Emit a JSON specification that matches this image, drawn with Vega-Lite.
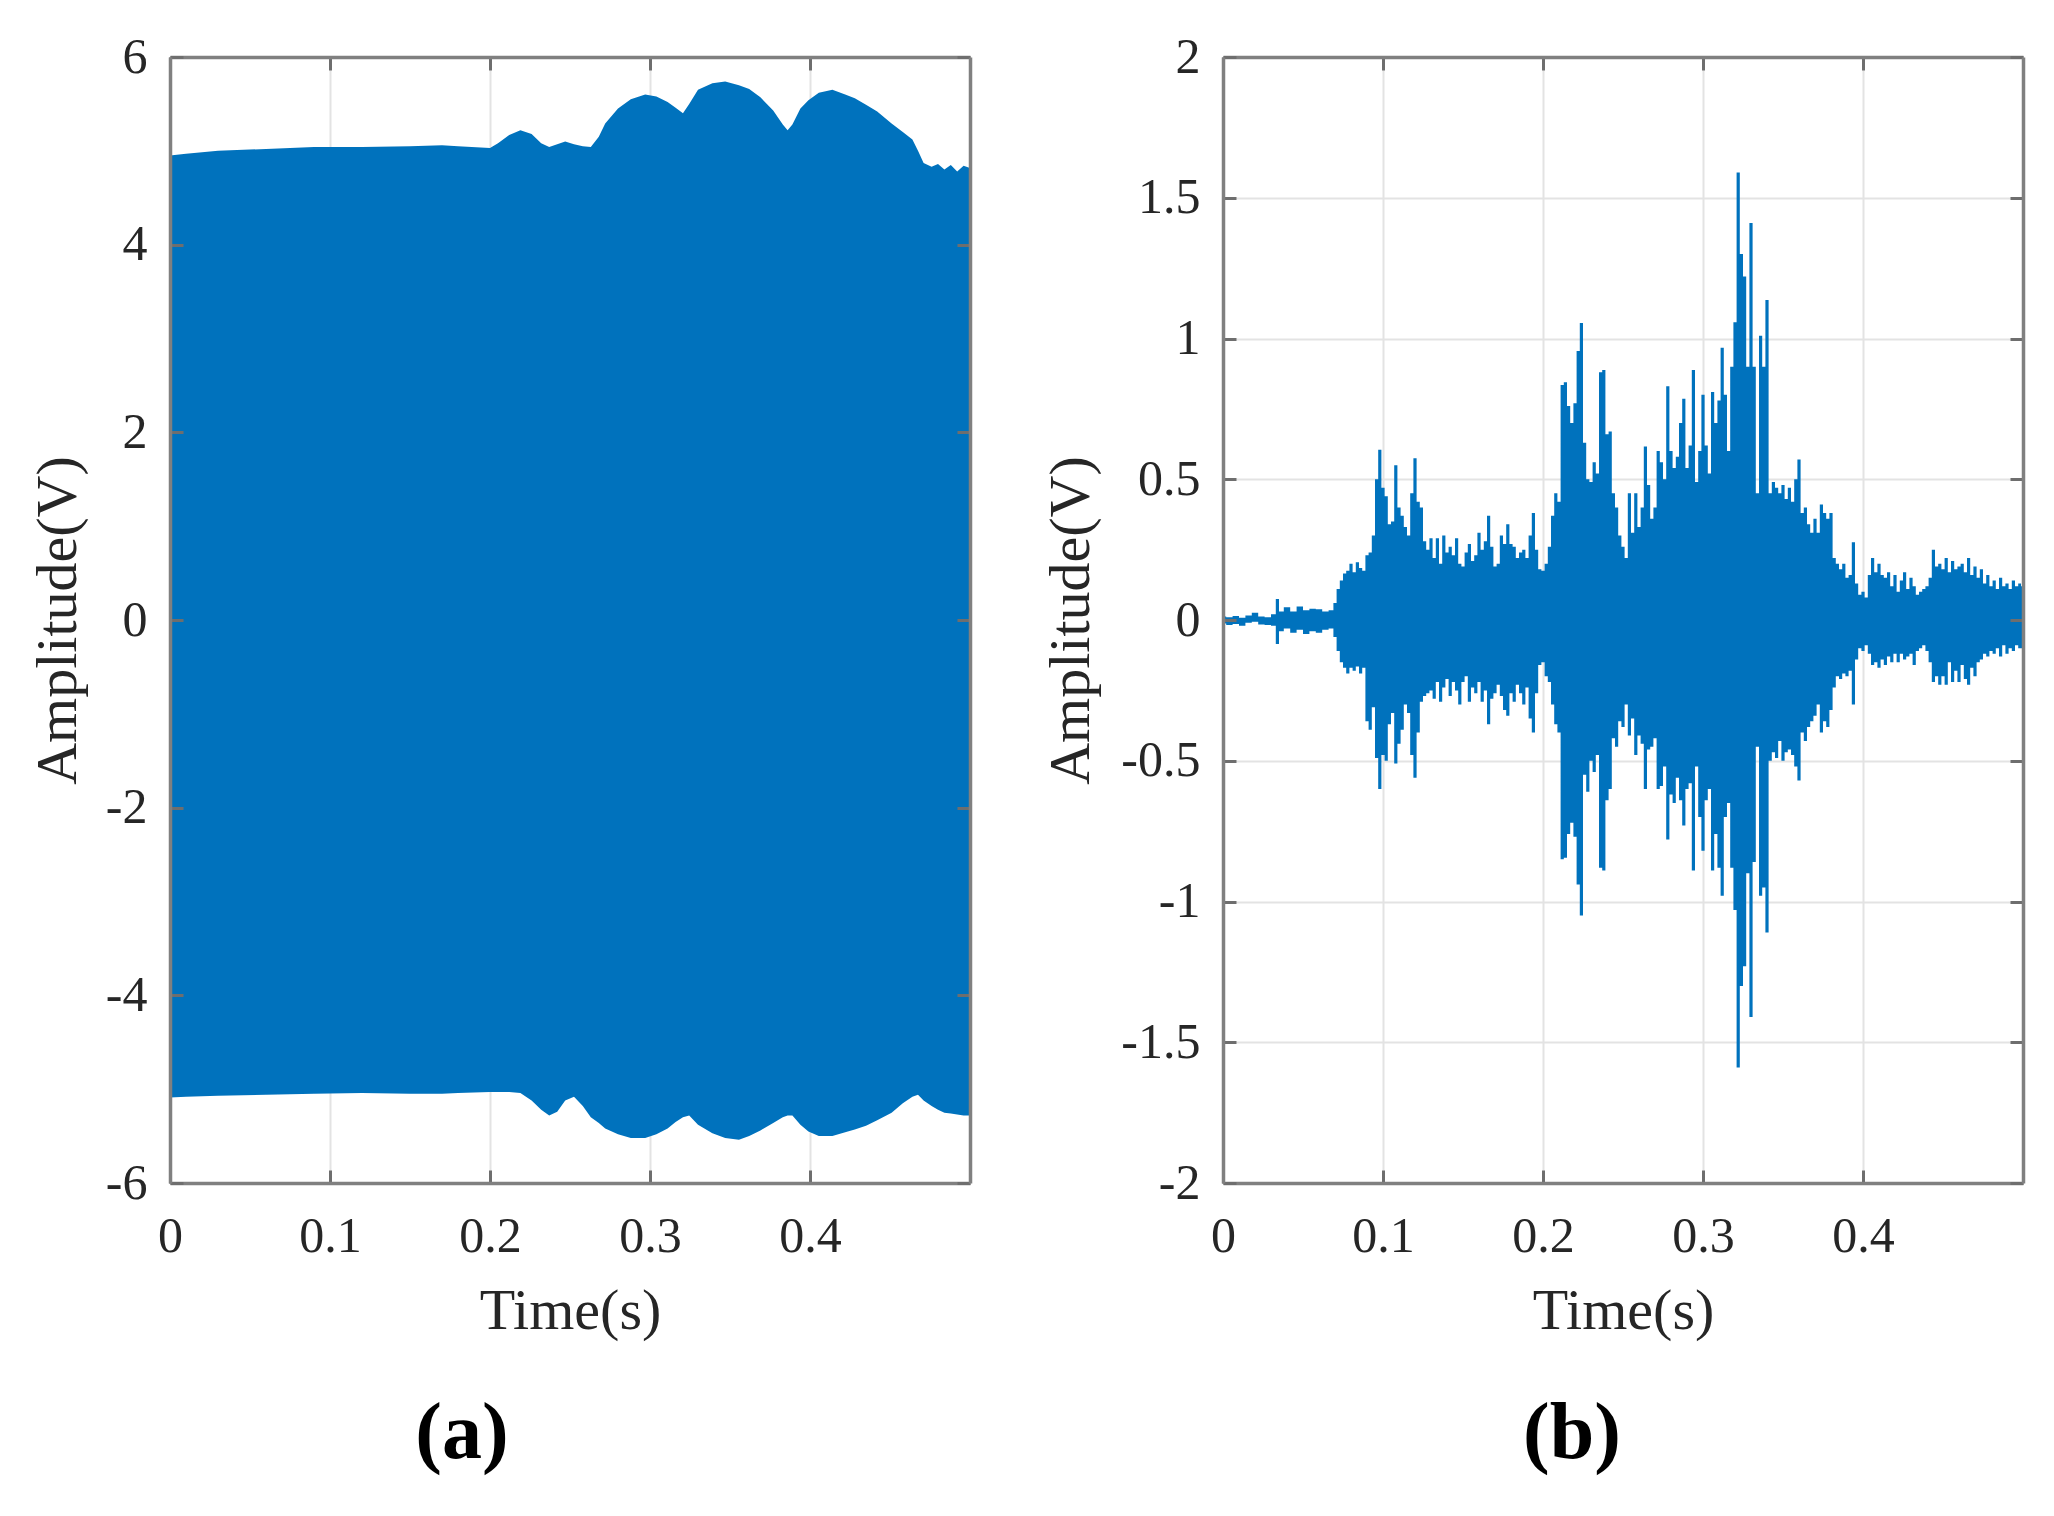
{
  "$schema": "https://vega.github.io/schema/vega-lite/v6.json",
  "background": "white",
  "padding": {"left": 29, "top": 32, "right": 30, "bottom": 30},
  "spacing": 253,
  "bounds": "flush",
  "datasets": {
    "a": [
      {"t":0.000,"hi":4.95,"lo":-5.09},{"t":0.010,"hi":4.97,"lo":-5.08},{"t":0.030,"hi":5.00,"lo":-5.07},{"t":0.060,"hi":5.02,"lo":-5.06},
      {"t":0.090,"hi":5.04,"lo":-5.05},{"t":0.120,"hi":5.04,"lo":-5.04},{"t":0.150,"hi":5.05,"lo":-5.05},{"t":0.170,"hi":5.06,"lo":-5.05},
      {"t":0.180,"hi":5.05,"lo":-5.04},{"t":0.200,"hi":5.03,"lo":-5.03},{"t":0.205,"hi":5.08,"lo":-5.03},{"t":0.212,"hi":5.17,"lo":-5.03},
      {"t":0.219,"hi":5.22,"lo":-5.04},{"t":0.226,"hi":5.18,"lo":-5.12},{"t":0.232,"hi":5.08,"lo":-5.22},{"t":0.237,"hi":5.04,"lo":-5.28},
      {"t":0.242,"hi":5.07,"lo":-5.24},{"t":0.247,"hi":5.10,"lo":-5.12},{"t":0.2525,"hi":5.07,"lo":-5.08},{"t":0.258,"hi":5.05,"lo":-5.18},
      {"t":0.263,"hi":5.04,"lo":-5.30},{"t":0.268,"hi":5.15,"lo":-5.36},{"t":0.272,"hi":5.29,"lo":-5.42},{"t":0.280,"hi":5.45,"lo":-5.48},
      {"t":0.288,"hi":5.55,"lo":-5.52},{"t":0.297,"hi":5.60,"lo":-5.52},{"t":0.304,"hi":5.58,"lo":-5.48},{"t":0.311,"hi":5.52,"lo":-5.42},
      {"t":0.316,"hi":5.46,"lo":-5.35},{"t":0.3206,"hi":5.40,"lo":-5.30},{"t":0.3245,"hi":5.50,"lo":-5.28},{"t":0.330,"hi":5.65,"lo":-5.38},
      {"t":0.339,"hi":5.72,"lo":-5.47},{"t":0.347,"hi":5.74,"lo":-5.52},{"t":0.3556,"hi":5.70,"lo":-5.54},{"t":0.362,"hi":5.66,"lo":-5.50},
      {"t":0.369,"hi":5.57,"lo":-5.44},{"t":0.377,"hi":5.43,"lo":-5.36},{"t":0.383,"hi":5.28,"lo":-5.30},{"t":0.386,"hi":5.22,"lo":-5.28},
      {"t":0.389,"hi":5.28,"lo":-5.28},{"t":0.394,"hi":5.45,"lo":-5.38},{"t":0.399,"hi":5.54,"lo":-5.45},{"t":0.4055,"hi":5.62,"lo":-5.50},
      {"t":0.414,"hi":5.65,"lo":-5.50},{"t":0.422,"hi":5.60,"lo":-5.46},{"t":0.428,"hi":5.56,"lo":-5.43},{"t":0.435,"hi":5.49,"lo":-5.39},
      {"t":0.442,"hi":5.42,"lo":-5.33},{"t":0.451,"hi":5.29,"lo":-5.25},{"t":0.458,"hi":5.20,"lo":-5.15},{"t":0.464,"hi":5.12,"lo":-5.08},
      {"t":0.4675,"hi":5.00,"lo":-5.06},{"t":0.471,"hi":4.87,"lo":-5.12},{"t":0.476,"hi":4.83,"lo":-5.18},{"t":0.480,"hi":4.86,"lo":-5.22},
      {"t":0.484,"hi":4.80,"lo":-5.25},{"t":0.488,"hi":4.85,"lo":-5.26},{"t":0.492,"hi":4.78,"lo":-5.27},{"t":0.496,"hi":4.84,"lo":-5.28},
      {"t":0.4995,"hi":4.82,"lo":-5.28}
    ],
    "b": [
      {"t":0.000,"hi":0.012,"lo":-0.012},{"t":0.004,"hi":0.010,"lo":-0.018},{"t":0.008,"hi":0.014,"lo":-0.014},{"t":0.012,"hi":0.008,"lo":-0.020},
      {"t":0.016,"hi":0.016,"lo":-0.010},{"t":0.020,"hi":0.026,"lo":-0.006},{"t":0.024,"hi":0.012,"lo":-0.016},{"t":0.028,"hi":0.010,"lo":-0.018},
      {"t":0.032,"hi":0.020,"lo":-0.020},{"t":0.034,"hi":0.075,"lo":-0.085},{"t":0.036,"hi":0.030,"lo":-0.040},{"t":0.040,"hi":0.045,"lo":-0.030},
      {"t":0.044,"hi":0.030,"lo":-0.045},{"t":0.048,"hi":0.048,"lo":-0.035},{"t":0.052,"hi":0.035,"lo":-0.050},{"t":0.056,"hi":0.040,"lo":-0.040},
      {"t":0.060,"hi":0.038,"lo":-0.045},{"t":0.064,"hi":0.030,"lo":-0.035},{"t":0.068,"hi":0.035,"lo":-0.030},{"t":0.070,"hi":0.060,"lo":-0.060},
      {"t":0.072,"hi":0.110,"lo":-0.110},{"t":0.074,"hi":0.140,"lo":-0.150},{"t":0.076,"hi":0.165,"lo":-0.170},{"t":0.078,"hi":0.175,"lo":-0.190},
      {"t":0.080,"hi":0.200,"lo":-0.170},{"t":0.082,"hi":0.170,"lo":-0.180},{"t":0.084,"hi":0.205,"lo":-0.165},{"t":0.086,"hi":0.185,"lo":-0.190},
      {"t":0.088,"hi":0.175,"lo":-0.170},{"t":0.090,"hi":0.230,"lo":-0.360},{"t":0.092,"hi":0.240,"lo":-0.390},{"t":0.094,"hi":0.300,"lo":-0.310},
      {"t":0.096,"hi":0.500,"lo":-0.490},{"t":0.098,"hi":0.605,"lo":-0.600},{"t":0.100,"hi":0.470,"lo":-0.480},{"t":0.102,"hi":0.440,"lo":-0.500},
      {"t":0.104,"hi":0.340,"lo":-0.370},{"t":0.106,"hi":0.350,"lo":-0.330},{"t":0.108,"hi":0.550,"lo":-0.510},{"t":0.110,"hi":0.400,"lo":-0.440},
      {"t":0.112,"hi":0.370,"lo":-0.390},{"t":0.114,"hi":0.330,"lo":-0.300},{"t":0.116,"hi":0.300,"lo":-0.330},{"t":0.118,"hi":0.450,"lo":-0.480},
      {"t":0.120,"hi":0.575,"lo":-0.560},{"t":0.122,"hi":0.420,"lo":-0.400},{"t":0.124,"hi":0.400,"lo":-0.290},{"t":0.126,"hi":0.280,"lo":-0.270},
      {"t":0.128,"hi":0.250,"lo":-0.260},{"t":0.130,"hi":0.290,"lo":-0.250},{"t":0.132,"hi":0.220,"lo":-0.280},{"t":0.134,"hi":0.290,"lo":-0.220},
      {"t":0.136,"hi":0.200,"lo":-0.290},{"t":0.138,"hi":0.300,"lo":-0.240},{"t":0.140,"hi":0.240,"lo":-0.210},{"t":0.142,"hi":0.260,"lo":-0.270},
      {"t":0.144,"hi":0.230,"lo":-0.220},{"t":0.146,"hi":0.290,"lo":-0.250},{"t":0.148,"hi":0.200,"lo":-0.300},{"t":0.150,"hi":0.190,"lo":-0.220},
      {"t":0.152,"hi":0.240,"lo":-0.200},{"t":0.154,"hi":0.270,"lo":-0.290},{"t":0.156,"hi":0.210,"lo":-0.240},{"t":0.158,"hi":0.230,"lo":-0.260},
      {"t":0.160,"hi":0.310,"lo":-0.220},{"t":0.162,"hi":0.250,"lo":-0.290},{"t":0.164,"hi":0.280,"lo":-0.250},{"t":0.166,"hi":0.370,"lo":-0.370},
      {"t":0.168,"hi":0.260,"lo":-0.280},{"t":0.170,"hi":0.190,"lo":-0.260},{"t":0.172,"hi":0.200,"lo":-0.230},{"t":0.174,"hi":0.300,"lo":-0.270},
      {"t":0.176,"hi":0.270,"lo":-0.320},{"t":0.178,"hi":0.340,"lo":-0.340},{"t":0.180,"hi":0.270,"lo":-0.260},{"t":0.182,"hi":0.260,"lo":-0.290},
      {"t":0.184,"hi":0.220,"lo":-0.230},{"t":0.186,"hi":0.240,"lo":-0.260},{"t":0.188,"hi":0.250,"lo":-0.300},{"t":0.190,"hi":0.220,"lo":-0.240},
      {"t":0.192,"hi":0.300,"lo":-0.350},{"t":0.194,"hi":0.380,"lo":-0.400},{"t":0.196,"hi":0.250,"lo":-0.260},{"t":0.198,"hi":0.180,"lo":-0.160},
      {"t":0.200,"hi":0.175,"lo":-0.150},{"t":0.202,"hi":0.200,"lo":-0.200},{"t":0.204,"hi":0.260,"lo":-0.220},{"t":0.206,"hi":0.370,"lo":-0.300},
      {"t":0.208,"hi":0.450,"lo":-0.370},{"t":0.210,"hi":0.420,"lo":-0.400},{"t":0.212,"hi":0.835,"lo":-0.850},{"t":0.214,"hi":0.845,"lo":-0.845},
      {"t":0.216,"hi":0.760,"lo":-0.760},{"t":0.218,"hi":0.700,"lo":-0.720},{"t":0.220,"hi":0.770,"lo":-0.770},{"t":0.222,"hi":0.956,"lo":-0.940},
      {"t":0.224,"hi":1.055,"lo":-1.050},{"t":0.226,"hi":0.630,"lo":-0.550},{"t":0.228,"hi":0.500,"lo":-0.610},{"t":0.230,"hi":0.490,"lo":-0.500},
      {"t":0.232,"hi":0.560,"lo":-0.540},{"t":0.234,"hi":0.520,"lo":-0.480},{"t":0.236,"hi":0.880,"lo":-0.880},{"t":0.238,"hi":0.888,"lo":-0.890},
      {"t":0.240,"hi":0.660,"lo":-0.640},{"t":0.242,"hi":0.670,"lo":-0.600},{"t":0.244,"hi":0.450,"lo":-0.420},{"t":0.246,"hi":0.400,"lo":-0.450},
      {"t":0.248,"hi":0.300,"lo":-0.360},{"t":0.250,"hi":0.260,"lo":-0.380},{"t":0.252,"hi":0.220,"lo":-0.300},{"t":0.254,"hi":0.450,"lo":-0.410},
      {"t":0.256,"hi":0.310,"lo":-0.350},{"t":0.258,"hi":0.450,"lo":-0.480},{"t":0.260,"hi":0.330,"lo":-0.410},{"t":0.262,"hi":0.400,"lo":-0.440},
      {"t":0.264,"hi":0.616,"lo":-0.600},{"t":0.266,"hi":0.480,"lo":-0.460},{"t":0.268,"hi":0.360,"lo":-0.450},{"t":0.270,"hi":0.400,"lo":-0.420},
      {"t":0.272,"hi":0.600,"lo":-0.600},{"t":0.274,"hi":0.560,"lo":-0.590},{"t":0.276,"hi":0.500,"lo":-0.520},{"t":0.278,"hi":0.830,"lo":-0.780},
      {"t":0.280,"hi":0.600,"lo":-0.620},{"t":0.282,"hi":0.540,"lo":-0.650},{"t":0.284,"hi":0.580,"lo":-0.560},{"t":0.286,"hi":0.700,"lo":-0.640},
      {"t":0.288,"hi":0.786,"lo":-0.730},{"t":0.290,"hi":0.540,"lo":-0.600},{"t":0.292,"hi":0.620,"lo":-0.580},{"t":0.294,"hi":0.888,"lo":-0.890},
      {"t":0.296,"hi":0.490,"lo":-0.520},{"t":0.298,"hi":0.600,"lo":-0.700},{"t":0.300,"hi":0.800,"lo":-0.820},{"t":0.302,"hi":0.620,"lo":-0.640},
      {"t":0.304,"hi":0.520,"lo":-0.600},{"t":0.306,"hi":0.810,"lo":-0.890},{"t":0.308,"hi":0.700,"lo":-0.760},{"t":0.310,"hi":0.780,"lo":-0.880},
      {"t":0.312,"hi":0.967,"lo":-0.980},{"t":0.314,"hi":0.800,"lo":-0.700},{"t":0.316,"hi":0.600,"lo":-0.650},{"t":0.318,"hi":0.900,"lo":-0.880},
      {"t":0.320,"hi":1.058,"lo":-1.030},{"t":0.322,"hi":1.590,"lo":-1.590},{"t":0.324,"hi":1.300,"lo":-1.300},{"t":0.326,"hi":1.220,"lo":-1.230},
      {"t":0.328,"hi":0.900,"lo":-0.900},{"t":0.330,"hi":1.410,"lo":-1.410},{"t":0.332,"hi":0.900,"lo":-0.860},{"t":0.334,"hi":0.450,"lo":-0.450},
      {"t":0.336,"hi":1.010,"lo":-0.980},{"t":0.338,"hi":0.900,"lo":-0.950},{"t":0.340,"hi":1.137,"lo":-1.110},{"t":0.342,"hi":0.450,"lo":-0.500},
      {"t":0.344,"hi":0.490,"lo":-0.470},{"t":0.346,"hi":0.470,"lo":-0.490},{"t":0.348,"hi":0.450,"lo":-0.430},{"t":0.350,"hi":0.480,"lo":-0.500},
      {"t":0.352,"hi":0.430,"lo":-0.470},{"t":0.354,"hi":0.470,"lo":-0.460},{"t":0.356,"hi":0.420,"lo":-0.480},{"t":0.358,"hi":0.500,"lo":-0.520},
      {"t":0.360,"hi":0.570,"lo":-0.570},{"t":0.362,"hi":0.380,"lo":-0.400},{"t":0.364,"hi":0.400,"lo":-0.430},{"t":0.366,"hi":0.340,"lo":-0.380},
      {"t":0.368,"hi":0.310,"lo":-0.360},{"t":0.370,"hi":0.360,"lo":-0.340},{"t":0.372,"hi":0.310,"lo":-0.300},{"t":0.374,"hi":0.410,"lo":-0.400},
      {"t":0.376,"hi":0.380,"lo":-0.360},{"t":0.378,"hi":0.360,"lo":-0.380},{"t":0.380,"hi":0.380,"lo":-0.320},{"t":0.382,"hi":0.220,"lo":-0.240},
      {"t":0.384,"hi":0.200,"lo":-0.200},{"t":0.386,"hi":0.180,"lo":-0.210},{"t":0.388,"hi":0.200,"lo":-0.190},{"t":0.390,"hi":0.150,"lo":-0.200},
      {"t":0.392,"hi":0.160,"lo":-0.180},{"t":0.394,"hi":0.276,"lo":-0.300},{"t":0.396,"hi":0.130,"lo":-0.140},{"t":0.398,"hi":0.090,"lo":-0.100},
      {"t":0.400,"hi":0.100,"lo":-0.110},{"t":0.402,"hi":0.080,"lo":-0.090},{"t":0.404,"hi":0.160,"lo":-0.120},{"t":0.406,"hi":0.220,"lo":-0.160},
      {"t":0.408,"hi":0.170,"lo":-0.150},{"t":0.410,"hi":0.200,"lo":-0.170},{"t":0.412,"hi":0.160,"lo":-0.140},{"t":0.414,"hi":0.150,"lo":-0.160},
      {"t":0.416,"hi":0.170,"lo":-0.130},{"t":0.418,"hi":0.120,"lo":-0.150},{"t":0.420,"hi":0.160,"lo":-0.120},{"t":0.422,"hi":0.100,"lo":-0.150},
      {"t":0.424,"hi":0.140,"lo":-0.120},{"t":0.426,"hi":0.170,"lo":-0.140},{"t":0.428,"hi":0.110,"lo":-0.130},{"t":0.430,"hi":0.150,"lo":-0.120},
      {"t":0.432,"hi":0.120,"lo":-0.160},{"t":0.434,"hi":0.090,"lo":-0.110},{"t":0.436,"hi":0.100,"lo":-0.100},{"t":0.438,"hi":0.110,"lo":-0.090},
      {"t":0.440,"hi":0.120,"lo":-0.110},{"t":0.442,"hi":0.150,"lo":-0.150},{"t":0.444,"hi":0.250,"lo":-0.220},{"t":0.446,"hi":0.190,"lo":-0.200},
      {"t":0.448,"hi":0.200,"lo":-0.230},{"t":0.450,"hi":0.180,"lo":-0.200},{"t":0.452,"hi":0.220,"lo":-0.230},{"t":0.454,"hi":0.170,"lo":-0.150},
      {"t":0.456,"hi":0.210,"lo":-0.220},{"t":0.458,"hi":0.180,"lo":-0.180},{"t":0.460,"hi":0.190,"lo":-0.220},{"t":0.462,"hi":0.200,"lo":-0.160},
      {"t":0.464,"hi":0.170,"lo":-0.210},{"t":0.466,"hi":0.220,"lo":-0.230},{"t":0.468,"hi":0.160,"lo":-0.170},{"t":0.470,"hi":0.190,"lo":-0.200},
      {"t":0.472,"hi":0.150,"lo":-0.150},{"t":0.474,"hi":0.180,"lo":-0.140},{"t":0.476,"hi":0.130,"lo":-0.120},{"t":0.478,"hi":0.160,"lo":-0.130},
      {"t":0.480,"hi":0.120,"lo":-0.110},{"t":0.482,"hi":0.140,"lo":-0.120},{"t":0.484,"hi":0.110,"lo":-0.100},{"t":0.486,"hi":0.150,"lo":-0.130},
      {"t":0.488,"hi":0.120,"lo":-0.090},{"t":0.490,"hi":0.130,"lo":-0.120},{"t":0.492,"hi":0.110,"lo":-0.100},{"t":0.494,"hi":0.140,"lo":-0.110},
      {"t":0.496,"hi":0.120,"lo":-0.090},{"t":0.498,"hi":0.130,"lo":-0.100},{"t":0.4995,"hi":0.120,"lo":-0.100}
    ]
  },
  "hconcat": [
    {
      "width": 800,
      "height": 1126,
      "data": {"name": "a"},
      "title": {"text": "(a)", "orient": "bottom", "anchor": "middle", "frame": "group", "dx": -108, "offset": 55, "baseline": "top", "fontSize": 80, "font": "Liberation Serif", "fontWeight": "bold", "color": "#000000"},
      "resolve": {"axis": {"x": "independent", "y": "independent"}},
      "layer": [
        {
          "mark": {"type": "point", "opacity": 0},
          "encoding": {
            "x": {"field": "t", "type": "quantitative", "scale": {"domain": [0, 0.5], "nice": false, "zero": false},
                  "axis": {"orient": "bottom", "values": [0.1, 0.2, 0.3, 0.4], "grid": true, "domain": false, "ticks": false, "labels": false, "title": null, "zindex": 0}},
            "y": {"field": "hi", "type": "quantitative", "scale": {"domain": [-6, 6], "nice": false, "zero": false},
                  "axis": {"orient": "left", "values": [-4, -2, 0, 2, 4], "grid": true, "domain": false, "ticks": false, "labels": false, "title": null, "zindex": 0}}
          }
        },
        {
          "mark": {"type": "area", "color": "#0072BD", "interpolate": "linear", "clip": true},
          "encoding": {
            "x": {"field": "t", "type": "quantitative", "scale": {"domain": [0, 0.5], "nice": false, "zero": false},
                  "axis": {"orient": "bottom", "values": [0, 0.1, 0.2, 0.3, 0.4], "labelExpr": "'' + datum.value", "grid": false, "zindex": 1, "labelPadding": 41,
                           "title": "Time(s)", "titleX": 400, "titleY": 145, "titleBaseline": "alphabetic", "titleAlign": "center"}},
            "y": {"field": "hi", "type": "quantitative", "scale": {"domain": [-6, 6], "nice": false, "zero": false},
                  "axis": {"orient": "left", "values": [-6, -4, -2, 0, 2, 4, 6], "labelExpr": "'' + datum.value", "grid": false, "zindex": 1, "labelPadding": 36,
                           "title": "Amplitude(V)", "titleX": -95, "titleY": 563, "titleAngle": 270, "titleBaseline": "alphabetic", "titleAlign": "center"}},
            "y2": {"field": "lo"}
          }
        },
        {
          "mark": {"type": "point", "opacity": 0},
          "encoding": {
            "x": {"field": "t", "type": "quantitative", "scale": {"domain": [0, 0.5], "nice": false, "zero": false},
                  "axis": {"orient": "top", "values": [0, 0.1, 0.2, 0.3, 0.4], "grid": false, "labels": false, "title": null, "zindex": 1}},
            "y": {"field": "hi", "type": "quantitative", "scale": {"domain": [-6, 6], "nice": false, "zero": false},
                  "axis": {"orient": "right", "values": [-6, -4, -2, 0, 2, 4, 6], "grid": false, "labels": false, "title": null, "zindex": 1}}
          }
        }
      ]
    },
    {
      "width": 800,
      "height": 1126,
      "data": {"name": "b"},
      "title": {"text": "(b)", "orient": "bottom", "anchor": "middle", "frame": "group", "dx": -51, "offset": 55, "baseline": "top", "fontSize": 80, "font": "Liberation Serif", "fontWeight": "bold", "color": "#000000"},
      "resolve": {"axis": {"x": "independent", "y": "independent"}},
      "layer": [
        {
          "mark": {"type": "point", "opacity": 0},
          "encoding": {
            "x": {"field": "t", "type": "quantitative", "scale": {"domain": [0, 0.5], "nice": false, "zero": false},
                  "axis": {"orient": "bottom", "values": [0.1, 0.2, 0.3, 0.4], "grid": true, "domain": false, "ticks": false, "labels": false, "title": null, "zindex": 0}},
            "y": {"field": "hi", "type": "quantitative", "scale": {"domain": [-2, 2], "nice": false, "zero": false},
                  "axis": {"orient": "left", "values": [-1.5, -1, -0.5, 0, 0.5, 1, 1.5], "grid": true, "domain": false, "ticks": false, "labels": false, "title": null, "zindex": 0}}
          }
        },
        {
          "mark": {"type": "area", "color": "#0072BD", "interpolate": "step", "clip": true},
          "encoding": {
            "x": {"field": "t", "type": "quantitative", "scale": {"domain": [0, 0.5], "nice": false, "zero": false},
                  "axis": {"orient": "bottom", "values": [0, 0.1, 0.2, 0.3, 0.4], "labelExpr": "'' + datum.value", "grid": false, "zindex": 1, "labelPadding": 41,
                           "title": "Time(s)", "titleX": 400, "titleY": 145, "titleBaseline": "alphabetic", "titleAlign": "center"}},
            "y": {"field": "hi", "type": "quantitative", "scale": {"domain": [-2, 2], "nice": false, "zero": false},
                  "axis": {"orient": "left", "values": [-2, -1.5, -1, -0.5, 0, 0.5, 1, 1.5, 2], "labelExpr": "'' + datum.value", "grid": false, "zindex": 1, "labelPadding": 36,
                           "title": "Amplitude(V)", "titleX": -135, "titleY": 563, "titleAngle": 270, "titleBaseline": "alphabetic", "titleAlign": "center"}},
            "y2": {"field": "lo"}
          }
        },
        {
          "mark": {"type": "point", "opacity": 0},
          "encoding": {
            "x": {"field": "t", "type": "quantitative", "scale": {"domain": [0, 0.5], "nice": false, "zero": false},
                  "axis": {"orient": "top", "values": [0, 0.1, 0.2, 0.3, 0.4], "grid": false, "labels": false, "title": null, "zindex": 1}},
            "y": {"field": "hi", "type": "quantitative", "scale": {"domain": [-2, 2], "nice": false, "zero": false},
                  "axis": {"orient": "right", "values": [-2, -1.5, -1, -0.5, 0, 0.5, 1, 1.5, 2], "grid": false, "labels": false, "title": null, "zindex": 1}}
          }
        }
      ]
    }
  ],
  "config": {
    "view": {"stroke": null},
    "axis": {
      "labelFont": "Liberation Serif", "titleFont": "Liberation Serif",
      "labelFontSize": 50, "titleFontSize": 58, "titleFontWeight": "normal",
      "labelColor": "#262626", "titleColor": "#262626",
      "domainColor": "#808080", "domainWidth": 3.5,
      "tickColor": "#6e6e6e", "tickWidth": 3, "tickSize": -13,
      "gridColor": "#e3e3e3", "gridWidth": 2, "gridOpacity": 1,
      "labelFlush": false, "labelOverlap": false, "labelBound": false
    }
  }
}
